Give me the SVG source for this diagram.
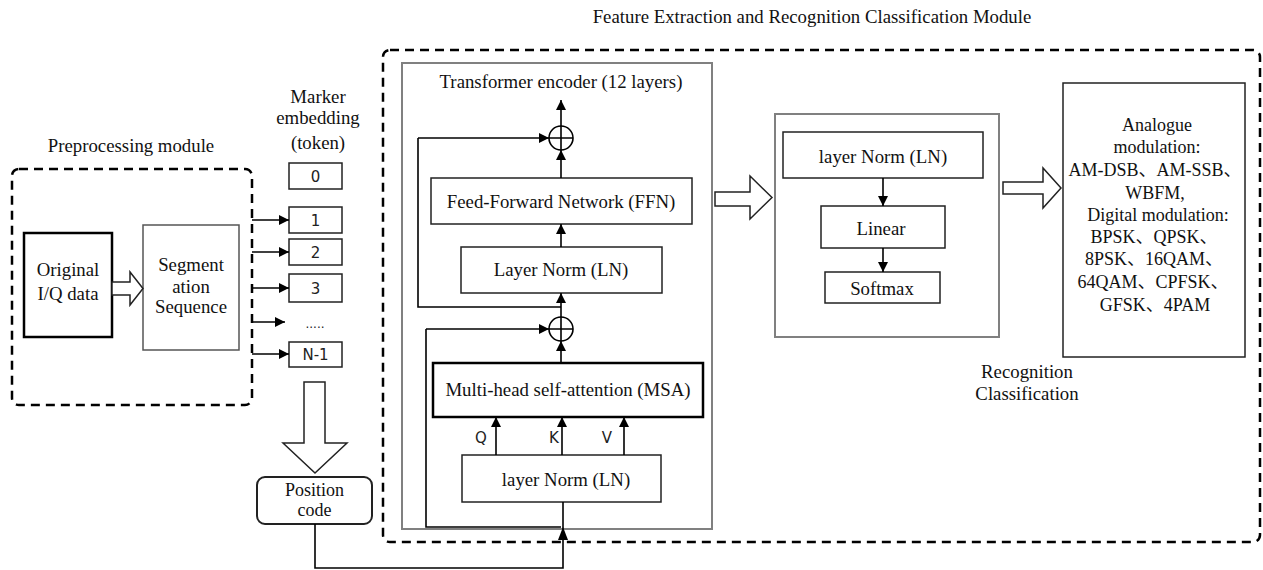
<svg xmlns="http://www.w3.org/2000/svg" width="1263" height="570" viewBox="0 0 1263 570">
<defs>
<marker id="ah" viewBox="0 0 10 10" refX="10" refY="5" markerWidth="10" markerHeight="10" markerUnits="userSpaceOnUse" orient="auto"><path d="M0,0 L10,5 L0,10 z" fill="#000"/></marker>
<style>
.t{font-family:"Liberation Serif","Noto Sans CJK SC",serif;font-size:18.8px;fill:#111;text-anchor:middle}
.r{font-size:18px}
.s{font-family:"DejaVu Sans","Liberation Sans",sans-serif;font-size:15px;fill:#222;text-anchor:middle}
.b{fill:#fff;stroke:#222;stroke-width:1.5}
.bk{fill:#fff;stroke:#000;stroke-width:2.5}
.g{fill:#fff;stroke:#808080;stroke-width:2}
.d{fill:none;stroke:#000;stroke-width:2.5;stroke-dasharray:9,6}
.c{fill:none;stroke:#000;stroke-width:1.6}
.a{fill:none;stroke:#000;stroke-width:1.6;marker-end:url(#ah)}
.h{fill:#fff;stroke:#222;stroke-width:1.5}
</style>
</defs>
<rect width="1263" height="570" fill="#fff"/>

<g id="preprocessing">
<rect class="d" x="12" y="169" width="240" height="236" rx="7"/>
<text class="t" x="131" y="152">Preprocessing module</text>
</g>
<g id="feature-module">
<rect class="d" x="383" y="50" width="877" height="492" rx="7"/>
<text class="t" x="812" y="23">Feature Extraction and Recognition Classification Module</text>
</g>
<g id="encoder">
<rect class="g" x="402" y="63" width="310" height="466"/>
<text class="t" x="561" y="88">Transformer encoder (12 layers)</text>
</g>
<g id="classifier">
<rect class="g" x="775" y="114" width="224" height="223"/>
</g>

<g id="iq"><rect class="bk" x="24" y="233" width="88" height="104"/>
<text class="t" x="68" y="276">Original</text><text class="t" x="68" y="300">I/Q data</text></g>
<g id="seg"><rect class="g" x="143" y="225" width="96" height="125" style="stroke:#555;stroke-width:1.5"/>
<text class="t" x="191" y="271">Segment</text><text class="t" x="191" y="293">ation</text><text class="t" x="191" y="313">Sequence</text></g>

<g id="marker-label">
<text class="t" x="318" y="103">Marker</text><text class="t" x="318" y="124">embedding</text><text class="t" x="318" y="149">(token)</text>
</g>
<g id="tok0"><rect class="b" x="289" y="163" width="53" height="26"/><text class="s" x="315.5" y="182">0</text></g>
<g id="tok1"><rect class="b" x="289" y="207" width="53" height="26"/><text class="s" x="315.5" y="226">1</text></g>
<g id="tok2"><rect class="b" x="289" y="239" width="53" height="26"/><text class="s" x="315.5" y="258">2</text></g>
<g id="tok3"><rect class="b" x="289" y="274" width="53" height="28"/><text class="s" x="315.5" y="294">3</text></g>
<g id="tokdots"><text class="s" x="315" y="328" style="font-size:12px">.....</text></g>
<g id="tokN"><rect class="b" x="289" y="342" width="53" height="25"/><text class="s" x="315.5" y="360">N-1</text></g>

<g id="pos"><rect class="b" x="257" y="477" width="115" height="47" rx="8" style="stroke-width:2"/>
<text class="t r" x="314.5" y="496">Position</text><text class="t r" x="314.5" y="516">code</text></g>

<g id="ffn"><rect class="b" x="431" y="178" width="261" height="46"/><text class="t" x="561" y="208">Feed-Forward Network (FFN)</text></g>
<g id="ln1"><rect class="b" x="461" y="247" width="201" height="46"/><text class="t" x="561" y="276">Layer Norm (LN)</text></g>
<g id="msa"><rect class="bk" x="433" y="363" width="270" height="54"/><text class="t" x="568" y="396">Multi-head self-attention (MSA)</text></g>
<g id="ln0"><rect class="b" x="462" y="455" width="199" height="47"/><text class="t" x="566" y="486">layer Norm (LN)</text></g>
<g id="add1"><circle cx="561" cy="138" r="12" class="c" fill="#fff"/><path class="c" d="M549,138 H573 M561,126 V150"/></g>
<g id="add0"><circle cx="561" cy="329" r="12" class="c" fill="#fff"/><path class="c" d="M549,329 H573 M561,317 V341"/></g>

<g id="cls-ln"><rect class="b" x="783" y="132" width="200" height="46"/><text class="t" x="883" y="163">layer Norm (LN)</text></g>
<g id="linear"><rect class="b" x="821" y="206" width="124" height="42"/><text class="t" x="881" y="235">Linear</text></g>
<g id="softmax"><rect class="b" x="825" y="272" width="115" height="31"/><text class="t" x="882" y="295">Softmax</text></g>
<g id="recog"><text class="t" x="1027" y="378">Recognition</text><text class="t" x="1027" y="400">Classification</text></g>

<g id="result"><rect class="b" x="1063" y="83" width="182" height="274"/>
<text class="t r" x="1157" y="131">Analogue</text>
<text class="t r" x="1157" y="153">modulation:</text>
<text class="t r" x="1155" y="176">AM-DSB、AM-SSB、</text>
<text class="t r" x="1155" y="199">WBFM,</text>
<text class="t r" x="1158" y="221">Digital modulation:</text>
<text class="t r" x="1154" y="243">BPSK、QPSK、</text>
<text class="t r" x="1154" y="265">8PSK、16QAM、</text>
<text class="t r" x="1153" y="288">64QAM、CPFSK、</text>
<text class="t r" x="1155" y="311">GFSK、4PAM</text>
</g>

<g id="connectors">
<path class="h" d="M112,282 H130 V272 L143,288.5 L130,305 V295 H112 Z"/>
<path class="a" d="M252,220 H289"/>
<path class="a" d="M252,252 H289"/>
<path class="a" d="M252,288 H289"/>
<path class="a" d="M252,322 H285"/>
<path class="a" d="M252,354 H289"/>
<path class="h" d="M304,382 H325 V443 H347 L315,473 L283,443 H304 Z"/>
<path class="c" d="M315,524 V568 H563 V527"/>
<path d="M563,527 L558,540 H568 Z" fill="#000"/>
<path class="c" d="M563,527 V502"/>
<path class="c" d="M561,527 H426 V329"/>
<path class="a" d="M426,329 H549"/>
<path class="a" d="M496,455 V417"/>
<path class="a" d="M562,455 V417"/>
<path class="a" d="M624,455 V417"/>
<text class="s" x="481" y="443">Q</text>
<text class="s" x="554" y="443">K</text>
<text class="s" x="607" y="443">V</text>
<path class="a" d="M561,363 V341"/>
<path class="a" d="M561,317 V293"/>
<path class="c" d="M561,307 H418 V138"/>
<path class="a" d="M418,138 H549"/>
<path class="a" d="M561,247 V224"/>
<path class="a" d="M561,178 V150"/>
<path class="a" d="M561,126 V100"/>
<path class="h" d="M715,192 H750 V176 L772,197.5 L750,219 V206 H715 Z"/>
<path class="a" d="M883,178 V206"/>
<path class="a" d="M883,248 V272"/>
<path class="h" d="M1003,182 H1043 V168 L1061,188 L1043,208 V194 H1003 Z"/>
</g>
</svg>
